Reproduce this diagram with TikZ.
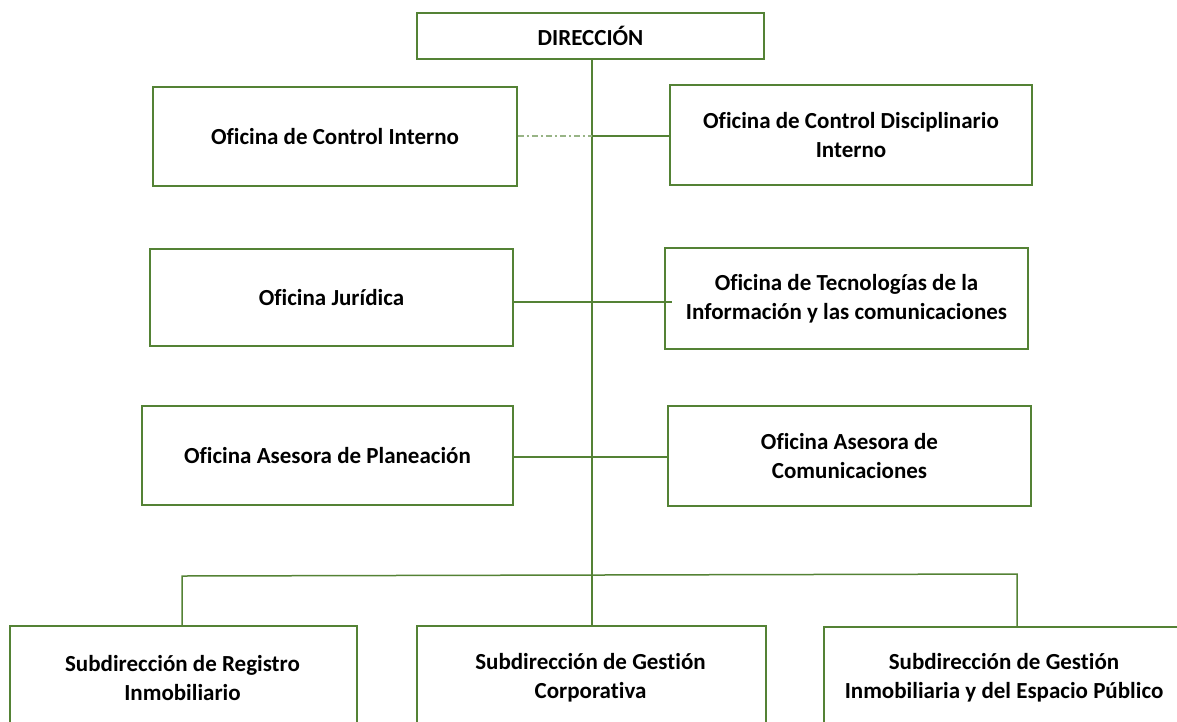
\documentclass[tikz,border=0pt]{standalone}
\usepackage{fontspec}
\setmainfont{Carlito}[Ligatures=NoCommon]
\definecolor{og}{RGB}{84,130,53}
\begin{document}
\begin{tikzpicture}[x=1pt,y=-1pt,
  lbl/.style={font=\bfseries\fontsize{23}{29}\selectfont,align=center,inner sep=0pt},
  box/.style={draw=og,line width=1.5pt,rectangle,inner sep=0pt,lbl},
  link/.style={draw=og,line width=1.5pt}]
\useasboundingbox (0,0) rectangle (1177,721);
\node[box,minimum width=347,minimum height=46] (dir) at (590.5,36) {DIRECCIÓN};
\node[box,minimum width=364,minimum height=99] (oci) at (335,136.5) {Oficina de Control Interno};
\node[box,minimum width=362,minimum height=100] (ocd) at (851,135) {Oficina de Control Disciplinario\\Interno};
\node[box,minimum width=363,minimum height=97] (oj) at (331.5,297.5) {Oficina Jurídica};
\node[box,minimum width=363,minimum height=101] (otic) at (846.5,298.5) {Oficina de Tecnologías de la\\Información y las comunicaciones};
\node[box,minimum width=371,minimum height=99] (oap) at (327.5,455.5) {Oficina Asesora de Planeación};
\node[box,minimum width=363,minimum height=100] (oac) at (849.5,456) {Oficina Asesora de\\Comunicaciones};
\node[box,minimum width=347,minimum height=130,anchor=north west] (sri) at (9,625) {};
\node[box,minimum width=349,minimum height=130,anchor=north west] (sgc) at (416,625) {};
\node[box,minimum width=380,minimum height=130,anchor=north west] (sgi) at (823,626) {};
\node[lbl] (tsri) at (182.5,678) {Subdirección de Registro\\Inmobiliario};
\node[lbl] (tsgc) at (590.5,678) {Subdirección de Gestión\\Corporativa};
\node[lbl] (tsgi) at (1004,678) {Subdirección de Gestión\\Inmobiliaria y del Espacio Público};
% trunk
\draw[link] (dir.south -| 592,0) -- (sgc.north -| 592,0);
% side links
\coordinate (c1) at (592,136);
\draw[link,dash pattern=on 6pt off 3pt on 2pt off 3pt,draw=og!60] (oci.east |- c1) -- (c1);
\draw[link] (c1) -- (ocd.west |- c1);
\draw[link] (oj.east |- 0,302) -- (672,302);
\draw[link] (oap.east |- 0,457) -- (oac.west |- 0,457);
% bus
\coordinate (bl) at (182,576);
\coordinate (br) at (1017,574);
\draw[link] (sri.north -| bl) -- (bl) -- (br) -- (sgi.north -| br);
\end{tikzpicture}
\end{document}
